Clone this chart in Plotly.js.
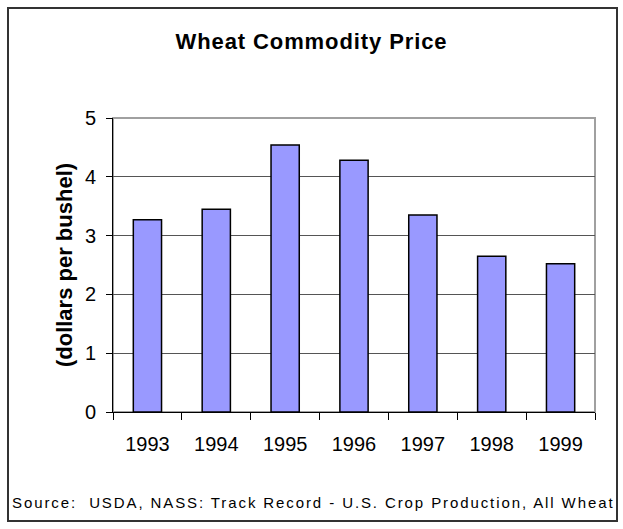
<!DOCTYPE html>
<html>
<head>
<meta charset="utf-8">
<script src="https://cdn.plot.ly/plotly-3.0.1.min.js"></script>
<style>
  html, body { margin: 0; padding: 0; background: #ffffff; }
  #chart { width: 623px; height: 529px; }
  .annotation-text { letter-spacing: 1.9px; }
  .gtitle { letter-spacing: 0.9px; }
</style>
</head>
<body>
<div id="chart"></div>
<script>
// Data
const years = ["1993", "1994", "1995", "1996", "1997", "1998", "1999"];
const prices = [3.27, 3.45, 4.54, 4.28, 3.35, 2.65, 2.52];
const yTicks = [0, 1, 2, 3, 4, 5];
const chartTitle = "Wheat Commodity Price";
const yTitle = "(dollars per bushel)";
const sourceNote = "Source:  USDA, NASS: Track Record - U.S. Crop Production, All Wheat";

const FONT = "Liberation Sans, Arial, Helvetica, sans-serif";

const trace = {
  type: "bar",
  x: years,
  y: prices,
  marker: { color: "#9999ff", line: { color: "#000000", width: 1.5 } },
  hoverinfo: "x+y"
};

const layout = {
  width: 623,
  height: 529,
  margin: { l: 113, r: 28, t: 118, b: 117 },
  paper_bgcolor: "#ffffff",
  plot_bgcolor: "#ffffff",
  bargap: 0.59,
  showlegend: false,
  font: { family: FONT, color: "#000000" },
  title: {
    text: "<b>" + chartTitle + "</b>",
    font: { family: FONT, size: 22, color: "#000000" },
    xref: "container", x: 0.5, xanchor: "center",
    yref: "container", y: 1 - 41 / 529, yanchor: "middle"
  },
  xaxis: {
    type: "category",
    showline: true, linecolor: "#000000", linewidth: 1,
    ticks: "outside", tickson: "boundaries", ticklen: 7, tickcolor: "#000000", tickwidth: 1,
    ticklabelstandoff: 14,
    tickfont: { family: FONT, size: 20, color: "#000000" },
    showgrid: false, zeroline: false, fixedrange: true
  },
  yaxis: {
    range: [0, 5],
    tickvals: yTicks,
    ticktext: yTicks.map(String),
    showline: true, linecolor: "#000000", linewidth: 1,
    ticks: "outside", ticklen: 6, tickcolor: "#000000", tickwidth: 1,
    ticklabelstandoff: 6,
    tickfont: { family: FONT, size: 20, color: "#000000" },
    showgrid: true, gridcolor: "#555555", gridwidth: 1,
    zeroline: false, fixedrange: true,
    title: {
      text: "<b>" + yTitle + "</b>",
      font: { family: FONT, size: 22, color: "#000000" },
      standoff: 6
    }
  },
  shapes: [
    {
      type: "rect", xref: "paper", yref: "paper",
      x0: 0, x1: 1, y0: 0, y1: 1,
      line: { color: "#a0a0a0", width: 2 }, layer: "below"
    },
    {
      type: "rect", xref: "paper", yref: "paper",
      x0: (8 - 113) / 482, x1: (617 - 113) / 482,
      y0: (412 - 521) / 294, y1: (412 - 8) / 294,
      line: { color: "#333333", width: 2 }, layer: "above"
    }
  ],
  annotations: [
    {
      text: sourceNote,
      xref: "paper", yref: "paper",
      x: (10 - 113) / 482, xanchor: "left",
      y: (412 - 502) / 294, yanchor: "middle",
      showarrow: false,
      font: { family: FONT, size: 15, color: "#000000" }
    }
  ]
};

Plotly.newPlot("chart", [trace], layout, { displayModeBar: false, staticPlot: true });
</script>
</body>
</html>
